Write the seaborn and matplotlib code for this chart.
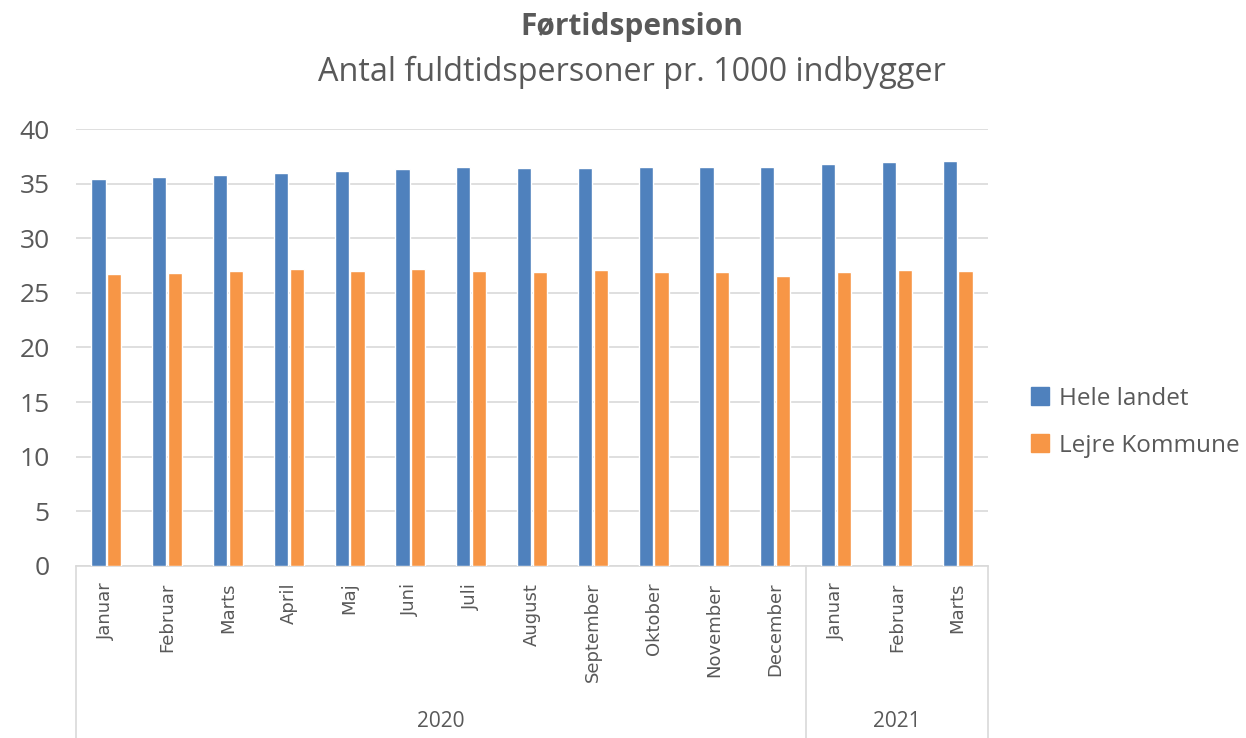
import pandas as pd
import seaborn as sns
import matplotlib.pyplot as plt
import matplotlib.transforms as mtransforms
from matplotlib.patches import Patch


# ======================================
# DATA
# ======================================

MONTHS = [
    "Januar", "Februar", "Marts", "April", "Maj", "Juni", "Juli",
    "August", "September", "Oktober", "November", "December",
    "Januar", "Februar", "Marts"
]

YEARS = [2020] * 12 + [2021] * 3

hele_landet = [
    35.4, 35.6, 35.8, 36.0, 36.2, 36.3, 36.5, 36.4,
    36.4, 36.5, 36.5, 36.5, 36.8, 37.0, 37.1
]

lejre_kommune = [
    26.7, 26.8, 27.0, 27.2, 27.0, 27.2, 27.0, 26.9,
    27.1, 26.9, 26.9, 26.5, 26.9, 27.1, 27.0
]

SERIES = ["Hele landet", "Lejre Kommune"]
COLORS = ["#4F81BD", "#F79646"]


# ======================================
# LONG FORMAT
# ======================================

periods = [f"{y} {m}" for y, m in zip(YEARS, MONTHS)]

df = pd.concat([
    pd.DataFrame({"periode": periods, "serie": SERIES[0], "vaerdi": hele_landet}),
    pd.DataFrame({"periode": periods, "serie": SERIES[1], "vaerdi": lejre_kommune}),
])


# ======================================
# CHART
# ======================================

sns.set_style("white")
plt.rcParams["font.family"] = ["Open Sans", "DejaVu Sans"]

TEXT = "#595959"

fig = plt.figure(figsize=(12.46, 7.38), dpi=100)
ax = fig.add_axes([0.061, 0.2331, 0.732, 0.5921])

sns.barplot(
    data=df,
    x="periode",
    y="vaerdi",
    hue="serie",
    order=periods,
    hue_order=SERIES,
    palette=COLORS,
    saturation=1,
    width=0.52,
    gap=0.1,
    legend=False,
    ax=ax,
    zorder=3
)

ax.set_ylim(0, 40)
ax.set_xlim(-0.5, len(periods) - 0.5)
ax.set_yticks(range(0, 41, 5))
ax.tick_params(axis="y", labelsize=19, labelcolor=TEXT, length=0, pad=19)
ax.yaxis.grid(True, color="#D9D9D9", linewidth=1.2, zorder=0)
ax.set_axisbelow(True)

ax.set_xticks(range(len(periods)))
ax.set_xticklabels(MONTHS, rotation=90, fontsize=13, color=TEXT,
                   family=["DejaVu Sans"])
ax.tick_params(axis="x", length=0, pad=12)

ax.set_xlabel("")
ax.set_ylabel("")

for side in ["left", "right", "top"]:
    ax.spines[side].set_visible(False)
ax.spines["bottom"].set_color("#D9D9D9")
ax.spines["bottom"].set_linewidth(1.2)

# year groups below the month labels
trans = mtransforms.blended_transform_factory(ax.transData, ax.transAxes)
depth = -(738 - 566) / 437

for xpos in [-0.5, 11.5, 14.5]:
    ax.plot(
        [xpos, xpos], [0, depth],
        transform=trans, color="#D9D9D9",
        linewidth=1.2, clip_on=False
    )

ax.text(5.5, -0.355, "2020", transform=trans, ha="center",
        va="center", fontsize=15, color=TEXT)
ax.text(13.0, -0.355, "2021", transform=trans, ha="center",
        va="center", fontsize=15, color=TEXT)

# titles
fig.text(0.507, 0.963, "Førtidspension", ha="center", va="center",
         fontsize=21.5, fontweight="bold", color=TEXT)
fig.text(0.507, 0.902, "Antal fuldtidspersoner pr. 1000 indbygger",
         ha="center", va="center", fontsize=23.3, color=TEXT)

# legend
handles = [Patch(facecolor=c, edgecolor=c) for c in COLORS]
fig.legend(
    handles, SERIES,
    loc="center left",
    bbox_to_anchor=(0.81, 0.428),
    frameon=False,
    fontsize=17.5,
    labelcolor=TEXT,
    handlelength=0.75,
    handleheight=0.75,
    handletextpad=0.4,
    labelspacing=0.95
)

fig.savefig("out.png", dpi=100)
